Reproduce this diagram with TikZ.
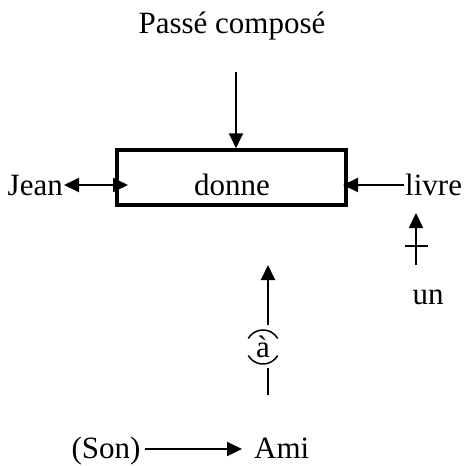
\documentclass[tikz,border=0pt]{standalone}
\usepackage{fontspec}
\setmainfont{Liberation Serif}
\usetikzlibrary{arrows.meta}
\begin{document}
\begin{tikzpicture}[x=1pt,y=-1pt,
  lbl/.style={inner sep=0pt,anchor=base,font=\fontsize{31}{37}\selectfont},
  arr/.style={line width=2pt,-{Triangle[length=15pt,width=14pt]}},
  darr/.style={line width=2pt,{Triangle[length=15pt,width=14pt]}-{Triangle[length=15pt,width=14pt]}},
  plain/.style={line width=2pt}]
\useasboundingbox (0,0) rectangle (466,466);
\node[lbl] (title) at (232,33) {Passé composé};
\node[draw,line width=3.5pt,minimum width=229pt,minimum height=55pt,inner sep=0pt] (box) at (231.5,177.5) {};
\node[lbl] (donne) at (232,195) {donne};
\node[lbl,anchor=base east] (jean) at (63,195) {Jean};
\node[lbl,anchor=base west] (livre) at (405,195) {livre};
\node[lbl] (un) at (428,304) {un};
\node[lbl] (a) at (263,357) {à};
\node[lbl] (son) at (106,458) {(Son)};
\node[lbl,anchor=base west] (ami) at (254,458) {Ami};
\coordinate (t) at (236,72);
\coordinate (jtip) at (128,185);
\coordinate (ltip) at (343,185);
\coordinate (ubot) at (416,265);
\coordinate (utop) at (416,213);
\coordinate (cl) at (405,246);
\coordinate (cr) at (428,246);
\coordinate (abot) at (268,325);
\coordinate (atop) at (268,265);
\coordinate (b1) at (268,368);
\coordinate (b2) at (268,395);
\coordinate (c) at (263,347);
\coordinate (sa) at (145,449);
\coordinate (sb) at (242,449);
\draw[arr] (t) -- (t |- box.north);
\draw[darr] ([xshift=1pt]jean.east |- jtip) -- (jtip);
\draw[arr] ([xshift=-1pt]livre.west |- ltip) -- (ltip);
\draw[arr] (ubot) -- (utop);
\draw[plain] (cl) -- (cr);
\draw[arr] (abot) -- (atop);
\draw[plain] (b1) -- (b2);
\draw[line width=1.5pt] ([shift={(150:17)}]c) arc[start angle=150,end angle=30,radius=17];
\draw[line width=1.5pt] ([shift={(210:17)}]c) arc[start angle=210,end angle=330,radius=17];
\draw[arr] (sa) -- (sb);
\end{tikzpicture}
\end{document}
